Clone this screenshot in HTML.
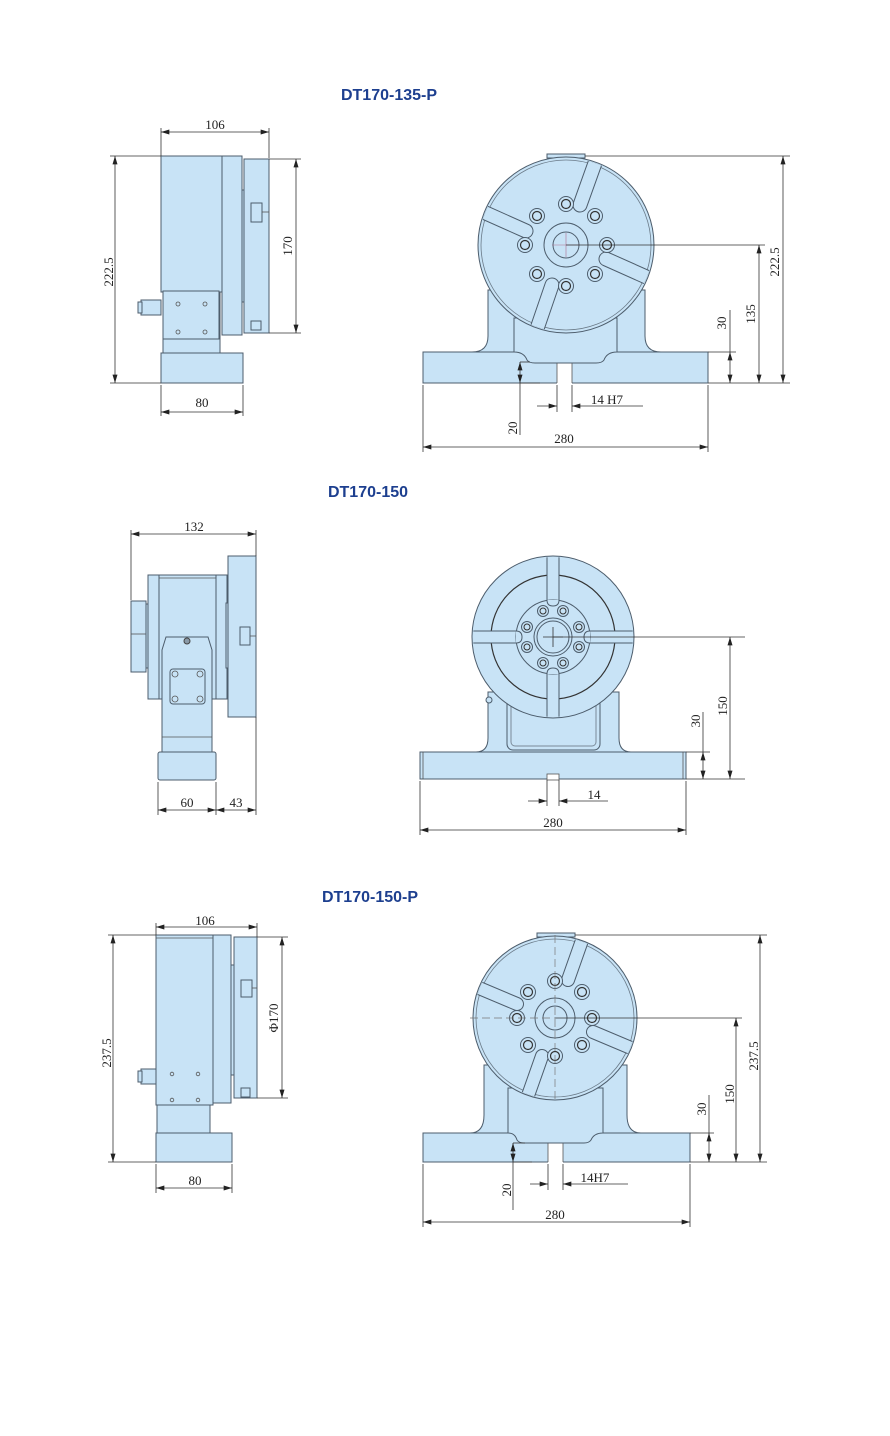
<!DOCTYPE html>
<html><head><meta charset="utf-8"><style>
html,body{margin:0;padding:0;background:#fff}
svg{display:block}
text{font-family:"Liberation Serif",serif;font-size:13px;fill:#222}
.t{font-family:"Liberation Sans",sans-serif;font-weight:bold;font-size:16px;fill:#1d3f8f}
.p{fill:#c8e3f6;stroke:#4d5d6c;stroke-width:1}
.l{stroke:#555;stroke-width:0.8;fill:none}
.d{stroke:#333;stroke-width:0.8;fill:none}
.da{stroke:#333;stroke-width:0.8;fill:none;marker-start:url(#a);marker-end:url(#a)}
.dk{stroke:#4d5d6c;stroke-width:1;fill:none}
</style></head><body>
<svg width="890" height="1436" viewBox="0 0 890 1436" xmlns="http://www.w3.org/2000/svg">
<defs>
<marker id="a" viewBox="0 0 10 6" refX="10" refY="3" markerWidth="9" markerHeight="5" orient="auto-start-reverse" markerUnits="userSpaceOnUse"><path d="M0,0 L10,3 L0,6 Z" fill="#222"/></marker>
<g id="hole"><circle r="7.5" class="p"/><circle r="4.5" fill="none" stroke="#333" stroke-width="1.2"/></g>
<g id="hs"><circle r="5.5" class="p"/><circle r="3" fill="none" stroke="#333" stroke-width="1"/></g>
<clipPath id="c1"><circle cx="566" cy="245" r="87"/></clipPath>
<clipPath id="c3"><circle cx="555" cy="1018" r="81"/></clipPath>
<clipPath id="c2"><circle cx="553" cy="637" r="80"/></clipPath>
</defs>

<!-- ===== Section 1 ===== -->
<text class="t" x="389" y="100" text-anchor="middle">DT170-135-P</text>
<!-- side view -->
<rect class="p" x="163" y="290" width="57" height="64"/>
<rect class="p" x="161" y="156" width="61" height="136"/>
<rect class="p" x="163" y="291" width="56" height="48"/>
<rect class="p" x="222" y="156" width="20" height="179"/>
<rect class="p" x="242" y="190" width="3" height="112"/>
<rect class="p" x="244" y="159" width="25" height="174"/>
<rect class="p" x="251" y="203" width="11" height="19"/><line class="l" x1="262" y1="212" x2="269" y2="212"/>
<rect class="p" x="251" y="321" width="10" height="9"/>
<rect class="p" x="161" y="353" width="82" height="30"/>
<rect class="p" x="141" y="300" width="20" height="15"/><rect class="p" x="138" y="302" width="4" height="11"/>
<g class="l"><circle cx="178" cy="304" r="2"/><circle cx="205" cy="304" r="2"/><circle cx="178" cy="332" r="2"/><circle cx="205" cy="332" r="2"/></g>
<line class="d" x1="161" y1="128" x2="161" y2="156"/><line class="d" x1="269" y1="128" x2="269" y2="158"/>
<line class="da" x1="161" y1="132" x2="269" y2="132"/><text x="215" y="129" text-anchor="middle">106</text>
<line class="d" x1="110" y1="156" x2="161" y2="156"/><line class="d" x1="110" y1="383" x2="161" y2="383"/>
<line class="da" x1="115" y1="156" x2="115" y2="383"/><text transform="translate(113,272) rotate(-90)" text-anchor="middle">222.5</text>
<line class="d" x1="269" y1="159" x2="301" y2="159"/><line class="d" x1="269" y1="333" x2="301" y2="333"/>
<line class="da" x1="296" y1="159" x2="296" y2="333"/><text transform="translate(292,246) rotate(-90)" text-anchor="middle">170</text>
<line class="d" x1="161" y1="385" x2="161" y2="416"/><line class="d" x1="243" y1="385" x2="243" y2="416"/>
<line class="da" x1="161" y1="412" x2="243" y2="412"/><text x="202" y="407" text-anchor="middle">80</text>
<!-- front view -->
<path class="p" d="M472,352 Q488,352 488,336 L488,290 L645,290 L645,336 Q645,352 661,352 Z"/>
<rect class="p" x="423" y="352" width="285" height="31"/>
<rect fill="#fff" x="557" y="362" width="15" height="22"/><line class="l" x1="557" y1="362" x2="557" y2="383"/><line class="l" x1="572" y1="362" x2="572" y2="383"/>
<path class="p" d="M514,352 L514,318 L617,318 L617,352 Q607,352 604,360 Q602,363 596,363 L535,363 Q529,363 527,360 Q524,352 514,352 Z"/>
<rect class="p" x="547" y="154" width="38" height="4"/>
<circle class="p" cx="566" cy="245" r="88"/>
<circle cx="566" cy="245" r="85" fill="none" stroke="#6a7a88" stroke-width="0.8"/>
<g clip-path="url(#c1)">
<g stroke-linecap="round" fill="none">
<g stroke="#4d5d6c" stroke-width="15"><line x1="580" y1="205" x2="605" y2="135"/><line x1="526" y1="231" x2="470" y2="206"/><line x1="552" y1="285" x2="528" y2="355"/><line x1="606" y1="259" x2="662" y2="284"/></g>
<g stroke="#c8e3f6" stroke-width="13"><line x1="580" y1="205" x2="605" y2="135"/><line x1="526" y1="231" x2="470" y2="206"/><line x1="552" y1="285" x2="528" y2="355"/><line x1="606" y1="259" x2="662" y2="284"/></g>
</g></g>
<circle class="p" cx="566" cy="245" r="22" stroke-width="1.5"/><circle class="p" cx="566" cy="245" r="13"/>
<use href="#hole" x="566" y="204"/><use href="#hole" x="595" y="216"/><use href="#hole" x="607" y="245"/><use href="#hole" x="595" y="274"/><use href="#hole" x="566" y="286"/><use href="#hole" x="537" y="274"/><use href="#hole" x="525" y="245"/><use href="#hole" x="537" y="216"/>
<line stroke="#b07090" stroke-width="0.6" x1="552" y1="245" x2="580" y2="245"/><line stroke="#b07090" stroke-width="0.6" x1="566" y1="233" x2="566" y2="257"/>
<line class="d" x1="566" y1="245" x2="765" y2="245"/><line class="d" x1="585" y1="156" x2="790" y2="156"/>
<line class="d" x1="708" y1="383" x2="790" y2="383"/><line class="d" x1="708" y1="352" x2="736" y2="352"/>
<line class="da" x1="759" y1="245" x2="759" y2="383"/><text transform="translate(755,314) rotate(-90)" text-anchor="middle">135</text>
<line class="da" x1="783" y1="156" x2="783" y2="383"/><text transform="translate(779,262) rotate(-90)" text-anchor="middle">222.5</text>
<line class="d" x1="730" y1="310" x2="730" y2="352"/><line class="da" x1="730" y1="352" x2="730" y2="383"/><text transform="translate(726,323) rotate(-90)" text-anchor="middle">30</text>
<line class="d" x1="520" y1="362" x2="530" y2="362"/><line class="d" x1="520" y1="383" x2="540" y2="383"/>
<line class="da" x1="520" y1="362" x2="520" y2="383"/><line class="d" x1="520" y1="383" x2="520" y2="435"/><text transform="translate(517,428) rotate(-90)" text-anchor="middle">20</text>
<line class="d" x1="557" y1="385" x2="557" y2="412"/><line class="d" x1="572" y1="385" x2="572" y2="412"/>
<line class="d" x1="537" y1="406" x2="557" y2="406" marker-end="url(#a)"/><line class="d" x1="643" y1="406" x2="572" y2="406" marker-end="url(#a)"/>
<text x="607" y="404" text-anchor="middle">14 H7</text>
<line class="d" x1="423" y1="385" x2="423" y2="452"/><line class="d" x1="708" y1="385" x2="708" y2="452"/>
<line class="da" x1="423" y1="447" x2="708" y2="447"/><text x="564" y="443" text-anchor="middle">280</text>

<!-- ===== Section 2 ===== -->
<text class="t" x="368" y="497" text-anchor="middle">DT170-150</text>
<rect class="p" x="131" y="601" width="15" height="71"/><line class="l" x1="131" y1="634" x2="146" y2="634"/>
<rect class="p" x="146" y="604" width="3" height="64"/>
<rect class="p" x="148" y="575" width="11" height="124"/>
<rect class="p" x="159" y="575" width="57" height="124"/><line class="l" x1="159" y1="578" x2="216" y2="578"/>
<rect class="p" x="216" y="575" width="11" height="124"/>
<rect class="p" x="226" y="603" width="3" height="65"/>
<path class="p" d="M166,637 L208,637 L212,650 L212,752 L162,752 L162,650 Z"/>
<line class="l" x1="162" y1="737" x2="212" y2="737"/>
<rect class="p" x="170" y="669" width="35" height="35" rx="3"/>
<g class="l"><circle cx="175" cy="674" r="3"/><circle cx="200" cy="674" r="3"/><circle cx="175" cy="699" r="3"/><circle cx="200" cy="699" r="3"/></g>
<circle cx="187" cy="641" r="3" fill="#8a9aa8" stroke="#444"/>
<rect class="p" x="158" y="752" width="58" height="28" rx="2"/>
<rect class="p" x="228" y="556" width="28" height="161"/>
<rect class="p" x="240" y="627" width="10" height="18"/><line class="l" x1="250" y1="636" x2="256" y2="636"/>
<line class="d" x1="131" y1="530" x2="131" y2="600"/><line class="d" x1="256" y1="530" x2="256" y2="556"/>
<line class="da" x1="131" y1="534" x2="256" y2="534"/><text x="194" y="531" text-anchor="middle">132</text>
<line class="d" x1="158" y1="782" x2="158" y2="815"/><line class="d" x1="216" y1="782" x2="216" y2="815"/><line class="d" x1="256" y1="717" x2="256" y2="815"/>
<line class="da" x1="158" y1="810" x2="216" y2="810"/><line class="da" x1="216" y1="810" x2="256" y2="810"/>
<text x="187" y="807" text-anchor="middle">60</text><text x="236" y="807" text-anchor="middle">43</text>
<!-- front -->
<path class="p" d="M476,752 Q488,752 488,738 L488,692 L619,692 L619,738 Q619,752 631,752 Z"/>
<rect x="507" y="698" width="93" height="52" rx="6" fill="none" stroke="#4d5d6c"/>
<rect x="511" y="702" width="85" height="44" rx="4" fill="none" stroke="#7a8a98"/>
<rect class="p" x="420" y="752" width="266" height="27"/><line class="l" x1="423" y1="752" x2="423" y2="779"/><line class="l" x1="683" y1="752" x2="683" y2="779"/>
<rect x="547" y="774" width="12" height="6" fill="#fff" stroke="#555" stroke-width="0.8"/>
<circle cx="489" cy="700" r="3" class="p"/>
<circle class="p" cx="553" cy="637" r="81"/>
<circle cx="553" cy="637" r="62" fill="none" stroke="#333" stroke-width="1.2"/>
<g clip-path="url(#c2)">
<rect x="547" y="550" width="12" height="175" fill="#c8e3f6"/><line class="dk" x1="547" y1="550" x2="547" y2="725"/><line class="dk" x1="559" y1="550" x2="559" y2="725"/>
<rect x="465" y="631" width="176" height="12" fill="#c8e3f6"/><line class="dk" x1="465" y1="631" x2="547" y2="631"/><line class="dk" x1="559" y1="631" x2="641" y2="631"/><line class="dk" x1="465" y1="643" x2="547" y2="643"/><line class="dk" x1="559" y1="643" x2="641" y2="643"/>
</g>
<circle class="p" cx="553" cy="637" r="37" stroke="#333" stroke-width="1.2"/>
<path class="p" d="M547,600 Q547,606 553,606 Q559,606 559,600"/>
<path class="p" d="M547,674 Q547,668 553,668 Q559,668 559,674"/>
<path class="p" d="M516,631 Q522,631 522,637 Q522,643 516,643"/>
<path class="p" d="M590,631 Q584,631 584,637 Q584,643 590,643"/>
<circle class="p" cx="553" cy="637" r="19" stroke-width="1.5"/><circle class="p" cx="553" cy="637" r="16"/>
<use href="#hs" x="543" y="611"/><use href="#hs" x="563" y="611"/><use href="#hs" x="579" y="627"/><use href="#hs" x="579" y="647"/><use href="#hs" x="563" y="663"/><use href="#hs" x="543" y="663"/><use href="#hs" x="527" y="647"/><use href="#hs" x="527" y="627"/>
<line class="d" x1="543" y1="637" x2="563" y2="637"/><line class="d" x1="553" y1="627" x2="553" y2="647"/>
<line class="d" x1="553" y1="637" x2="745" y2="637"/><line class="d" x1="686" y1="779" x2="745" y2="779"/><line class="d" x1="686" y1="752" x2="710" y2="752"/>
<line class="da" x1="730" y1="637" x2="730" y2="779"/><text transform="translate(727,706) rotate(-90)" text-anchor="middle">150</text>
<line class="d" x1="703" y1="712" x2="703" y2="752"/><line class="da" x1="703" y1="752" x2="703" y2="779"/><text transform="translate(700,721) rotate(-90)" text-anchor="middle">30</text>
<line class="d" x1="547" y1="780" x2="547" y2="806"/><line class="d" x1="559" y1="780" x2="559" y2="806"/>
<line class="d" x1="528" y1="801" x2="547" y2="801" marker-end="url(#a)"/><line class="d" x1="608" y1="801" x2="559" y2="801" marker-end="url(#a)"/>
<text x="594" y="799" text-anchor="middle">14</text>
<line class="d" x1="420" y1="781" x2="420" y2="835"/><line class="d" x1="686" y1="781" x2="686" y2="835"/>
<line class="da" x1="420" y1="830" x2="686" y2="830"/><text x="553" y="827" text-anchor="middle">280</text>

<!-- ===== Section 3 ===== -->
<text class="t" x="370" y="902" text-anchor="middle">DT170-150-P</text>
<rect class="p" x="157" y="1100" width="53" height="34"/>
<rect class="p" x="156" y="935" width="57" height="170"/><line class="l" x1="156" y1="938" x2="213" y2="938"/>
<rect class="p" x="213" y="935" width="18" height="168"/>
<rect class="p" x="231" y="965" width="3" height="110"/>
<rect class="p" x="234" y="937" width="23" height="161"/>
<rect class="p" x="241" y="980" width="11" height="17"/><line class="l" x1="252" y1="988" x2="257" y2="988"/>
<rect class="p" x="241" y="1088" width="9" height="9"/>
<rect class="p" x="156" y="1133" width="76" height="29"/>
<rect class="p" x="141" y="1069" width="15" height="15"/><rect class="p" x="138" y="1071" width="4" height="11"/>
<g class="l"><circle cx="172" cy="1074" r="1.8"/><circle cx="198" cy="1074" r="1.8"/><circle cx="172" cy="1100" r="1.8"/><circle cx="198" cy="1100" r="1.8"/></g>
<line class="d" x1="156" y1="923" x2="156" y2="935"/><line class="d" x1="257" y1="923" x2="257" y2="937"/>
<line class="da" x1="156" y1="927" x2="257" y2="927"/><text x="205" y="925" text-anchor="middle">106</text>
<line class="d" x1="108" y1="935" x2="156" y2="935"/><line class="d" x1="108" y1="1162" x2="156" y2="1162"/>
<line class="da" x1="113" y1="935" x2="113" y2="1162"/><text transform="translate(111,1053) rotate(-90)" text-anchor="middle">237.5</text>
<line class="d" x1="257" y1="937" x2="288" y2="937"/><line class="d" x1="257" y1="1098" x2="288" y2="1098"/>
<line class="da" x1="282" y1="937" x2="282" y2="1098"/><text transform="translate(278,1018) rotate(-90)" text-anchor="middle">Φ170</text>
<line class="d" x1="156" y1="1164" x2="156" y2="1193"/><line class="d" x1="232" y1="1164" x2="232" y2="1193"/>
<line class="da" x1="156" y1="1188" x2="232" y2="1188"/><text x="195" y="1185" text-anchor="middle">80</text>
<!-- front -->
<path class="p" d="M470,1133 Q484,1133 484,1115 L484,1065 L627,1065 L627,1115 Q627,1133 641,1133 Z"/>
<rect class="p" x="423" y="1133" width="267" height="29"/>
<rect fill="#fff" x="548" y="1143" width="15" height="20"/><line class="l" x1="548" y1="1143" x2="548" y2="1162"/><line class="l" x1="563" y1="1143" x2="563" y2="1162"/>
<path class="p" d="M508,1133 L508,1088 L603,1088 L603,1133 Q594,1133 591,1140 Q589,1143 584,1143 L524,1143 Q519,1143 517,1140 Q515,1133 508,1133 Z"/>
<rect class="p" x="537" y="933" width="38" height="4"/>
<circle class="p" cx="555" cy="1018" r="82"/>
<circle cx="555" cy="1018" r="79" fill="none" stroke="#6a7a88" stroke-width="0.8"/>
<g clip-path="url(#c3)">
<g stroke-linecap="round" fill="none">
<g stroke="#4d5d6c" stroke-width="14"><line x1="568" y1="980" x2="592" y2="912"/><line x1="517" y1="1004" x2="460" y2="980"/><line x1="542" y1="1056" x2="518" y2="1124"/><line x1="593" y1="1032" x2="650" y2="1056"/></g>
<g stroke="#c8e3f6" stroke-width="12"><line x1="568" y1="980" x2="592" y2="912"/><line x1="517" y1="1004" x2="460" y2="980"/><line x1="542" y1="1056" x2="518" y2="1124"/><line x1="593" y1="1032" x2="650" y2="1056"/></g>
</g></g>
<circle class="p" cx="555" cy="1018" r="20" stroke-width="1.5"/><circle class="p" cx="555" cy="1018" r="12"/>
<use href="#hole" x="555" y="981"/><use href="#hole" x="582" y="992"/><use href="#hole" x="592" y="1018"/><use href="#hole" x="582" y="1045"/><use href="#hole" x="555" y="1056"/><use href="#hole" x="528" y="1045"/><use href="#hole" x="517" y="1018"/><use href="#hole" x="528" y="992"/>
<line stroke="#777" stroke-width="0.7" stroke-dasharray="8,4" x1="470" y1="1018" x2="555" y2="1018"/>
<line stroke="#777" stroke-width="0.7" stroke-dasharray="8,4" x1="555" y1="935" x2="555" y2="1100"/>
<line class="d" x1="555" y1="1018" x2="742" y2="1018"/><line class="d" x1="575" y1="935" x2="767" y2="935"/>
<line class="d" x1="690" y1="1162" x2="767" y2="1162"/><line class="d" x1="690" y1="1133" x2="714" y2="1133"/>
<line class="da" x1="736" y1="1018" x2="736" y2="1162"/><text transform="translate(734,1094) rotate(-90)" text-anchor="middle">150</text>
<line class="da" x1="760" y1="935" x2="760" y2="1162"/><text transform="translate(758,1056) rotate(-90)" text-anchor="middle">237.5</text>
<line class="d" x1="709" y1="1095" x2="709" y2="1133"/><line class="da" x1="709" y1="1133" x2="709" y2="1162"/><text transform="translate(706,1109) rotate(-90)" text-anchor="middle">30</text>
<line class="d" x1="513" y1="1143" x2="525" y2="1143"/><line class="d" x1="513" y1="1162" x2="532" y2="1162"/>
<line class="da" x1="513" y1="1143" x2="513" y2="1162"/><line class="d" x1="513" y1="1162" x2="513" y2="1210"/><text transform="translate(511,1190) rotate(-90)" text-anchor="middle">20</text>
<line class="d" x1="548" y1="1164" x2="548" y2="1190"/><line class="d" x1="563" y1="1164" x2="563" y2="1190"/>
<line class="d" x1="530" y1="1184" x2="548" y2="1184" marker-end="url(#a)"/><line class="d" x1="628" y1="1184" x2="563" y2="1184" marker-end="url(#a)"/>
<text x="595" y="1182" text-anchor="middle">14H7</text>
<line class="d" x1="423" y1="1164" x2="423" y2="1227"/><line class="d" x1="690" y1="1164" x2="690" y2="1227"/>
<line class="da" x1="423" y1="1222" x2="690" y2="1222"/><text x="555" y="1219" text-anchor="middle">280</text>
</svg>
</body></html>
